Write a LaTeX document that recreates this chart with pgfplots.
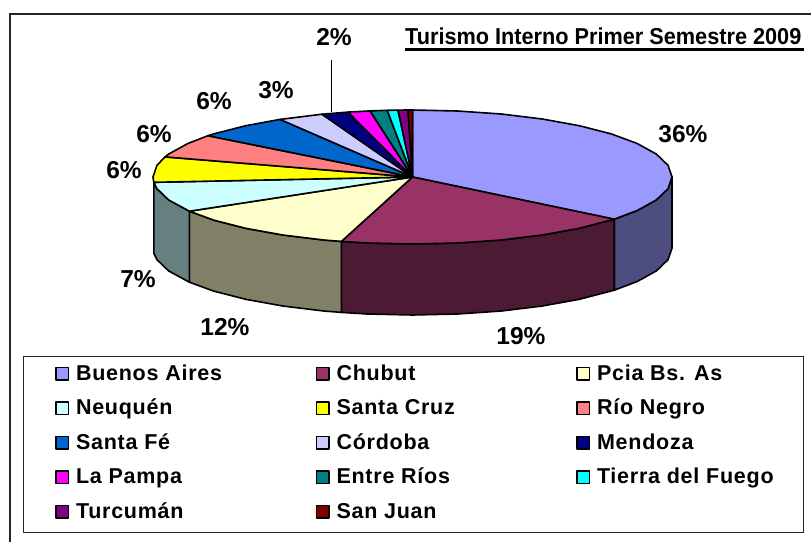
\documentclass[border=0pt]{standalone}
\usepackage{fontspec}
\setmainfont{Liberation Sans}
\newfontfamily\legfont[LetterSpace=3.5]{Liberation Sans}
\newfontfamily\titlefont[FakeStretch=0.943]{Liberation Sans}
\usepackage{pgfplots}
\pgfplotsset{compat=1.18}
\definecolor{c1}{HTML}{9999FF}\definecolor{s1}{HTML}{4D4D80}
\definecolor{c2}{HTML}{993366}\definecolor{s2}{HTML}{4D1A33}
\definecolor{c3}{HTML}{FFFFCC}\definecolor{s3}{HTML}{808066}
\definecolor{c4}{HTML}{CCFFFF}\definecolor{s4}{HTML}{668080}
\definecolor{c5}{HTML}{FFFF00}
\definecolor{c6}{HTML}{FF8080}
\definecolor{c7}{HTML}{0066CC}
\definecolor{c8}{HTML}{CCCCFF}
\definecolor{c9}{HTML}{000080}
\definecolor{c10}{HTML}{FF00FF}
\definecolor{c11}{HTML}{008080}
\definecolor{c12}{HTML}{00FFFF}
\definecolor{c13}{HTML}{800080}
\definecolor{c14}{HTML}{800000}
\newcommand{\lt}[1]{\makebox[239.5pt][l]{#1}}
\begin{document}
\begin{tikzpicture}
\begin{axis}[
  scale only axis, width=811pt, height=542pt,
  xmin=0, xmax=811, ymin=0, ymax=542, y dir=reverse,
  hide axis, clip=true,
  slice/.style={draw=black, line width=1.6pt, line join=round},
  legend columns=3,
  legend cell align=left,
  legend image code/.code={\draw[#1,line width=1.5pt] (0pt,-5.5pt) rectangle (12.5pt,7pt);},
  legend style={at={(axis cs:55,365)}, anchor=north west, draw=none, fill=none,
    inner sep=0pt, outer sep=0pt,
    font=\legfont\bfseries\fontsize{21.5}{24}\selectfont,
    row sep=15.5pt,
    nodes={inner sep=0pt, text height=15pt, text depth=4pt},
    /tikz/every odd column/.append style={column sep=7pt}},
]
% frame and legend box
\addplot[forget plot, draw=none, fill=white] coordinates {(0,0) (811,0) (811,542) (0,542)} --cycle;
\addplot[forget plot, draw=black!85, line width=2pt] coordinates {(10,542) (10,14) (811,14)};
\addplot[forget plot, draw=black!85, line width=1pt, fill=white] coordinates {(23,356) (803,356) (803,532) (23,532)} --cycle;
% side faces
\addplot[forget plot, slice, fill=s1] coordinates {(672,177) (668.1,188.6) (656.4,199.9) (637.2,210.5) (614.2,219.2) (614.2,290.2) (637.2,281.5) (656.4,270.9) (668.1,259.6) (672,248)} --cycle;
\addplot[forget plot, slice, fill=s2] coordinates {(614.2,219.2) (579.3,228.3) (542.3,235) (501.3,240) (457.6,243) (412.5,244) (367.4,243) (341.4,241.4) (341.4,312.4) (367.4,314) (412.5,315) (457.6,314) (501.3,311) (542.3,306) (579.3,299.3) (614.2,290.2)} --cycle;
\addplot[forget plot, slice, fill=s3] coordinates {(341.4,241.4) (323.7,240) (282.8,235) (245.7,228.3) (213.7,220.1) (189.4,211.2) (189.4,282.2) (213.7,291.1) (245.7,299.3) (282.8,306) (323.7,311) (341.4,312.4)} --cycle;
\addplot[forget plot, slice, fill=s4] coordinates {(189.4,211.2) (168.6,199.9) (156.9,188.6) (153.8,182.3) (153.8,253.3) (156.9,259.6) (168.6,270.9) (189.4,282.2)} --cycle;
% top faces
\addplot[slice, fill=c1] coordinates {(412.5,177) (412.5,110) (457.6,111) (501.3,114) (542.3,119) (579.3,125.7) (611.3,133.9) (637.2,143.5) (656.4,154.1) (668.1,165.4) (672,177) (668.1,188.6) (656.4,199.9) (637.2,210.5) (614.2,219.2)} --cycle;
\addlegendentry{\lt{Buenos Aires}}
\addplot[slice, fill=c2] coordinates {(412.5,177) (614.2,219.2) (579.3,228.3) (542.3,235) (501.3,240) (457.6,243) (412.5,244) (367.4,243) (341.4,241.4)} --cycle;
\addlegendentry{\lt{Chubut}}
\addplot[slice, fill=c3] coordinates {(412.5,177) (341.4,241.4) (323.7,240) (282.8,235) (245.7,228.3) (213.7,220.1) (189.4,211.2)} --cycle;
\addlegendentry{Pcia Bs. As}
\addplot[slice, fill=c4] coordinates {(412.5,177) (189.4,211.2) (168.6,199.9) (156.9,188.6) (153.8,182.3)} --cycle;
\addlegendentry{\lt{Neuquén}}
\addplot[slice, fill=c5] coordinates {(412.5,177) (153.8,182.3) (153,177) (156.9,165.4) (165,156.9)} --cycle;
\addlegendentry{\lt{Santa Cruz}}
\addplot[slice, fill=c6] coordinates {(412.5,177) (165,156.9) (168.6,154.1) (187.8,143.5) (208,135.7)} --cycle;
\addlegendentry{Río Negro}
\addplot[slice, fill=c7] coordinates {(412.5,177) (208,135.7) (213.7,133.9) (245.7,125.7) (280,119.4)} --cycle;
\addlegendentry{\lt{Santa Fé}}
\addplot[slice, fill=c8] coordinates {(412.5,177) (280,119.4) (322,114.2)} --cycle;
\addlegendentry{\lt{Córdoba}}
\addplot[slice, fill=c9] coordinates {(412.5,177) (322,114.2) (348,112.1)} --cycle;
\addlegendentry{Mendoza}
\addplot[slice, fill=c10] coordinates {(412.5,177) (348,112.1) (370.1,110.9)} --cycle;
\addlegendentry{\lt{La Pampa}}
\addplot[slice, fill=c11] coordinates {(412.5,177) (370.1,110.9) (387.2,110.3)} --cycle;
\addlegendentry{\lt{Entre Ríos}}
\addplot[slice, fill=c12] coordinates {(412.5,177) (387.2,110.3) (398,110.1)} --cycle;
\addlegendentry{Tierra del Fuego}
\addplot[slice, fill=c13] coordinates {(412.5,177) (398,110.1) (408,110)} --cycle;
\addlegendentry{\lt{Turcumán}}
\addplot[slice, fill=c14] coordinates {(412.5,177) (408,110) (412.5,110)} --cycle;
\addlegendentry{\lt{San Juan}}
% leader line
\addplot[forget plot, draw=black, line width=1pt] coordinates {(331.5,60) (331.5,112)};
% labels
\begin{scope}[every node/.style={font=\bfseries\fontsize{24.5}{28}\selectfont, inner sep=0pt}]
\node at (axis cs:683,134) {36\%};
\node at (axis cs:521,336) {19\%};
\node at (axis cs:225,327) {12\%};
\node at (axis cs:138,279) {7\%};
\node at (axis cs:124,170) {6\%};
\node at (axis cs:154,134) {6\%};
\node at (axis cs:214,101) {6\%};
\node at (axis cs:276,90) {3\%};
\node at (axis cs:334,37) {2\%};
\end{scope}
\node[font=\titlefont\bfseries\fontsize{23}{26}\selectfont, inner sep=0pt, anchor=base west] at (axis cs:405,44.5) {Turismo Interno Primer Semestre 2009};
\addplot[forget plot, draw=black, line width=2.2pt] coordinates {(405,49.5) (804,49.5)};
\end{axis}
\end{tikzpicture}
\end{document}
